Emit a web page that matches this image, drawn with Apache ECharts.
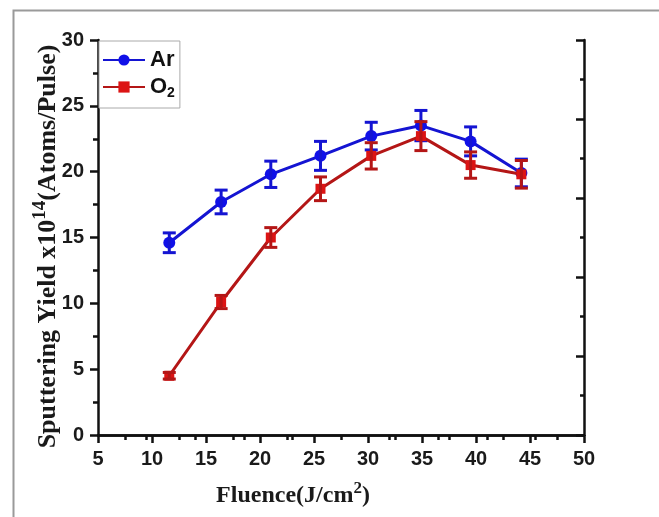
<!DOCTYPE html>
<html>
<head>
<meta charset="utf-8">
<script src="https://cdn.jsdelivr.net/npm/echarts@6/dist/echarts.min.js"></script>
<style>
  html, body { margin: 0; padding: 0; background: #fff; }
  #chart { width: 659px; height: 517px; }
</style>
</head>
<body>
<div id="chart"></div>
<script>
// data
var fluence  = [11.6, 16.4, 21.0, 25.6, 30.3, 34.9, 39.5, 44.2];
var arYield  = [14.6, 17.7, 19.8, 21.2, 22.7, 23.5, 22.3, 19.9];
var arErr    = [0.75, 0.9, 1.0, 1.1, 1.05, 1.15, 1.1, 1.05];
var o2Yield  = [4.5, 10.1, 15.0, 18.7, 21.2, 22.7, 20.5, 19.8];
var o2Err    = [0.25, 0.5, 0.75, 0.9, 1.0, 1.1, 1.0, 1.05];

var xTicks = { min: 5, max: 50, step: 5 };
var yTicks = { min: 0, max: 30, step: 5 };

var BLUE = '#1414d2', BLUE_MK = '#1010e8';
var RED = '#b41616', RED_MK = '#dc1414';

function pairs(xs, ys) { return xs.map(function (x, i) { return [x, ys[i]]; }); }
function errRows(xs, ys, es) { return xs.map(function (x, i) { return [x, ys[i] - es[i], ys[i] + es[i]]; }); }

function errorBars(color) {
    return function (params, api) {
        var lo = api.coord([api.value(0), api.value(1)]);
        var hi = api.coord([api.value(0), api.value(2)]);
        var w = 6.5;
        var st = { stroke: color, lineWidth: 3 };
        return { type: 'group', children: [
            { type: 'line', shape: { x1: lo[0], y1: lo[1], x2: hi[0], y2: hi[1] }, style: st },
            { type: 'line', shape: { x1: lo[0] - w, y1: lo[1], x2: lo[0] + w, y2: lo[1] }, style: st },
            { type: 'line', shape: { x1: hi[0] - w, y1: hi[1], x2: hi[0] + w, y2: hi[1] }, style: st }
        ]};
    };
}

var labelFont = { color: '#1a1a1a', fontFamily: 'Liberation Sans', fontWeight: 'bold', fontSize: 20 };
var axisLine = { show: true, lineStyle: { color: '#111', width: 2.5 } };
var titleFont = { color: '#1a1a1a', fontFamily: 'Liberation Serif', fontWeight: 'bold', fontSize: 24 };

var chart = echarts.init(document.getElementById('chart'));
chart.setOption({
    backgroundColor: '#fff',
    animation: false,
    graphic: [{
        type: 'rect', left: 11, top: 8, shape: { width: 700, height: 560 },
        style: { fill: 'none', stroke: '#9a9a9a', lineWidth: 2 }, silent: true, z: -1
    }],
    grid: { left: 98, right: 75, top: 40, bottom: 82 },
    legend: {
        left: 99, top: 41, orient: 'vertical',
        backgroundColor: '#fff', borderColor: '#aaa', borderWidth: 1,
        padding: [8, 5, 8, 3], itemGap: 5, itemWidth: 42, itemHeight: 14,
        textStyle: { color: '#111', fontFamily: 'Liberation Sans', fontWeight: 'bold', fontSize: 22,
            rich: { sub: { fontFamily: 'Liberation Sans', fontWeight: 'bold', fontSize: 14, padding: [12, 0, 0, 0] } } },
        formatter: function (n) { return n === 'O2' ? 'O{sub|2}' : n; },
        data: ['Ar', 'O2']
    },
    xAxis: [{
        type: 'value', min: xTicks.min, max: xTicks.max, interval: xTicks.step,
        axisLine: axisLine, splitLine: { show: false },
        axisTick: { inside: false, length: 8, lineStyle: { width: 2.5, color: '#111' } },
        minorTick: { show: true, splitNumber: 2, length: 5, lineStyle: { width: 2.5, color: '#111' } },
        axisLabel: Object.assign({ margin: 14 }, labelFont),
        name: 'Fluence(J/cm{sup|2})', nameLocation: 'middle', nameGap: 45,
        nameTextStyle: Object.assign({
            padding: [0, 96, 0, 0],
            rich: { sup: { fontFamily: 'Liberation Serif', fontWeight: 'bold', fontSize: 17, padding: [0, 0, 14, 0] } }
        }, titleFont)
    }, {
        // top frame axis, ticks only
        type: 'value', position: 'top', min: 0, max: 45, interval: 4.5,
        axisLine: axisLine, splitLine: { show: false }, axisLabel: { show: false },
        axisTick: { show: true, inside: true, length: 5, lineStyle: { width: 2.5, color: '#111' } }
    }],
    yAxis: [{
        type: 'value', min: yTicks.min, max: yTicks.max, interval: yTicks.step,
        axisLine: axisLine, splitLine: { show: false },
        axisTick: { inside: false, length: 8, lineStyle: { width: 2.5, color: '#111' } },
        minorTick: { show: true, splitNumber: 2, length: 5, lineStyle: { width: 2.5, color: '#111' } },
        axisLabel: Object.assign({ margin: 14 }, labelFont),
        name: 'Sputtering Yield x10{sup|14}(Atoms/Pulse)', nameLocation: 'middle', nameGap: 33,
        nameMoveOverlap: false,
        nameTextStyle: Object.assign({}, titleFont, {
            fontSize: 26,
            padding: [0, 18, 0, 0],
            rich: { sup: { fontFamily: 'Liberation Serif', fontWeight: 'bold', fontSize: 19, padding: [0, 0, 15, 0] } }
        })
    }, {
        // right frame axis, ticks only
        type: 'value', position: 'right', min: 0, max: 30, interval: 6,
        axisLine: axisLine, splitLine: { show: false }, axisLabel: { show: false },
        axisTick: { inside: true, length: 8, lineStyle: { width: 2.5, color: '#111' } },
        minorTick: { show: true, splitNumber: 2, length: 4, lineStyle: { width: 2.5, color: '#111' } }
    }],
    series: [{
        name: 'Ar', type: 'line', data: pairs(fluence, arYield), z: 2,
        symbol: 'circle', symbolSize: 12,
        lineStyle: { color: BLUE, width: 3 }, itemStyle: { color: BLUE_MK }
    }, {
        type: 'custom', data: errRows(fluence, arYield, arErr), z: 3,
        renderItem: errorBars(BLUE), encode: { x: 0, y: [1, 2] }
    }, {
        name: 'O2', type: 'line', data: pairs(fluence, o2Yield), z: 4,
        symbol: 'rect', symbolSize: 10,
        lineStyle: { color: RED, width: 3 }, itemStyle: { color: RED_MK }
    }, {
        type: 'custom', data: errRows(fluence, o2Yield, o2Err), z: 5,
        renderItem: errorBars(RED), encode: { x: 0, y: [1, 2] }
    }]
});
</script>
</body>
</html>
